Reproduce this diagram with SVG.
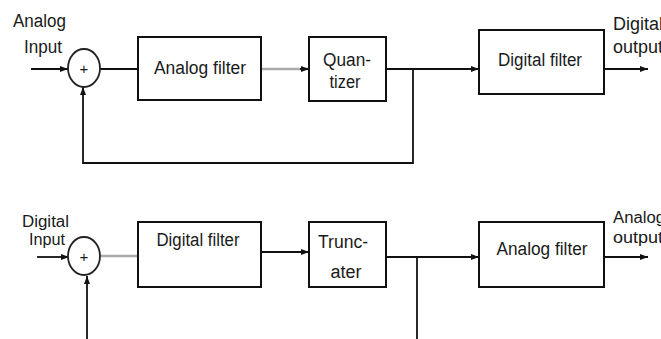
<svg xmlns="http://www.w3.org/2000/svg" width="661" height="339" viewBox="0 0 661 339">
<defs>
<marker id="ah" markerWidth="8" markerHeight="6" refX="8" refY="3" orient="auto" markerUnits="userSpaceOnUse">
<path d="M0,0 L8,3 L0,6 z" fill="#111"/>
</marker>
<style>
.box{fill:#fff;stroke:#111;stroke-width:2}
.sum{fill:#fff;stroke:#222;stroke-width:1.8}
.ln{fill:none;stroke:#111;stroke-width:1.8}
.gl{fill:none;stroke:#aaa;stroke-width:2.4}
.t{font-family:"Liberation Sans",Arial,sans-serif;font-size:18px;fill:#1a1a1a}
.s{font-size:16px}
.m{text-anchor:middle}
.p{font-family:"Liberation Sans",Arial,sans-serif;font-size:15px;fill:#1a1a1a;text-anchor:middle}
</style>
</defs>
<rect width="661" height="339" fill="#fff"/>
<g id="connectors">
<line class="ln" x1="31" y1="69" x2="68" y2="69" marker-end="url(#ah)"/>
<line class="ln" x1="100" y1="69" x2="138" y2="69"/>
<line class="gl" x1="261" y1="69" x2="309" y2="69"/>
<line class="ln" x1="300" y1="69" x2="309" y2="69" marker-end="url(#ah)"/>
<line class="ln" x1="386" y1="69" x2="479" y2="69" marker-end="url(#ah)"/>
<polyline class="ln" points="413,69 413,163 83,163 83,87" marker-end="url(#ah)"/>
<line class="ln" x1="604" y1="69" x2="648" y2="69" marker-end="url(#ah)"/>
<line class="ln" x1="37" y1="257" x2="69" y2="257" marker-end="url(#ah)"/>
<line class="gl" x1="100" y1="256" x2="138" y2="256"/>
<line class="ln" x1="261" y1="252" x2="309" y2="252" marker-end="url(#ah)"/>
<line class="ln" x1="386" y1="257" x2="479" y2="257" marker-end="url(#ah)"/>
<line class="ln" x1="417" y1="257" x2="417" y2="339"/>
<line class="ln" x1="87" y1="339" x2="87" y2="276" marker-end="url(#ah)"/>
<line class="ln" x1="604" y1="257" x2="648" y2="257" marker-end="url(#ah)"/>
</g>
<g id="labels">
<text class="t" x="13" y="27" textLength="53" lengthAdjust="spacingAndGlyphs">Analog</text>
<text class="t" x="24" y="53" textLength="38" lengthAdjust="spacingAndGlyphs">Input</text>
<text class="t" x="613" y="30" textLength="50" lengthAdjust="spacingAndGlyphs">Digital</text>
<text class="t" x="613" y="53" textLength="50" lengthAdjust="spacingAndGlyphs">output</text>
<text class="t s" x="22" y="227" textLength="47" lengthAdjust="spacingAndGlyphs">Digital</text>
<text class="t s" x="29" y="245" textLength="36" lengthAdjust="spacingAndGlyphs">Input</text>
<text class="t s" x="613" y="223" textLength="52" lengthAdjust="spacingAndGlyphs">Analog</text>
<text class="t s" x="613" y="243" textLength="50" lengthAdjust="spacingAndGlyphs">output</text>
</g>
<g id="sum1">
<ellipse class="sum" cx="84" cy="68" rx="16" ry="19"/>
<text class="p" x="84" y="74">+</text>
</g>
<g id="analog-filter-1">
<rect class="box" x="138" y="37" width="123" height="63"/>
<text class="t m" x="200" y="74" textLength="92" lengthAdjust="spacingAndGlyphs">Analog filter</text>
</g>
<g id="quantizer">
<rect class="box" x="309" y="37" width="77" height="64"/>
<text class="t m" x="347" y="66" textLength="48" lengthAdjust="spacingAndGlyphs">Quan-</text>
<text class="t m" x="345" y="88" textLength="31" lengthAdjust="spacingAndGlyphs">tizer</text>
</g>
<g id="digital-filter-1">
<rect class="box" x="479" y="30" width="125" height="64"/>
<text class="t m" x="540" y="66" textLength="84" lengthAdjust="spacingAndGlyphs">Digital filter</text>
</g>
<g id="sum2">
<ellipse class="sum" cx="84" cy="256" rx="16" ry="19"/>
<text class="p" x="84" y="262">+</text>
</g>
<g id="digital-filter-2">
<rect class="box" x="138" y="222" width="123" height="65"/>
<text class="t m" x="198" y="246" textLength="83" lengthAdjust="spacingAndGlyphs">Digital filter</text>
</g>
<g id="truncater">
<rect class="box" x="309" y="222" width="77" height="65"/>
<text class="t m" x="343" y="248" textLength="50" lengthAdjust="spacingAndGlyphs">Trunc-</text>
<text class="t m" x="346" y="278" textLength="31" lengthAdjust="spacingAndGlyphs">ater</text>
</g>
<g id="analog-filter-2">
<rect class="box" x="479" y="222" width="125" height="65"/>
<text class="t m" x="542" y="255" textLength="91" lengthAdjust="spacingAndGlyphs">Analog filter</text>
</g>
</svg>
